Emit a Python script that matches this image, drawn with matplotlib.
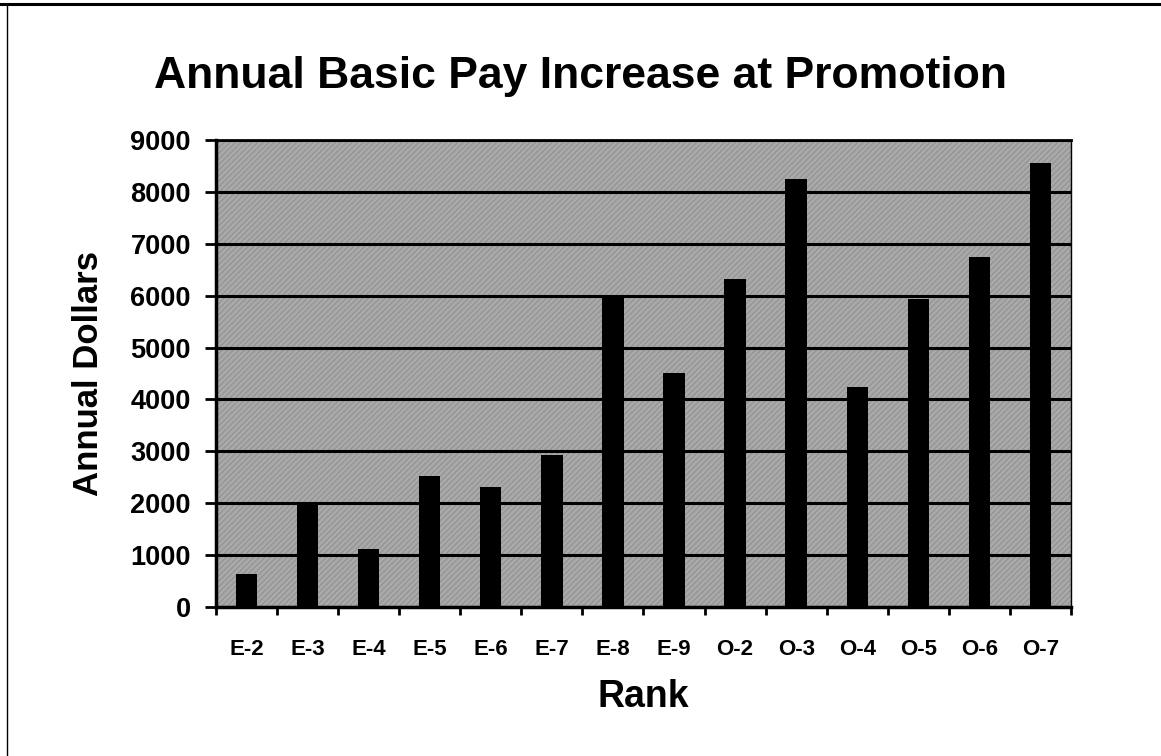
"""
Annual basic pay increase at promotion, by rank
"""
import matplotlib
matplotlib.use("Agg")
import matplotlib.pyplot as plt
from matplotlib.lines import Line2D
from matplotlib.patches import Rectangle
import numpy as np

# data
ranks = ["E-2", "E-3", "E-4", "E-5", "E-6", "E-7", "E-8", "E-9",
         "O-2", "O-3", "O-4", "O-5", "O-6", "O-7"]
pay_increase = [630, 2000, 1120, 2520, 2320, 2920, 6000, 4510,
                6320, 8240, 4240, 5930, 6740, 8560]
y_ticks = [0, 1000, 2000, 3000, 4000, 5000, 6000, 7000, 8000, 9000]

plt.rcParams['font.family'] = ['Liberation Sans', 'DejaVu Sans']
plt.rcParams['font.weight'] = 'bold'
plt.rcParams['hatch.linewidth'] = 0.7

fig = plt.figure(figsize=(11.61, 7.56), dpi=100)
ax = fig.add_axes([0.1860, 0.1971, 0.7365, 0.6177])

# gray textured plot area (the scan is a dithered gray)
ax.set_facecolor('#a9a9a9')
ax.add_patch(Rectangle((0, 0), 1, 1, transform=ax.transAxes,
                       facecolor='none', edgecolor='#8f8f8f', linewidth=0,
                       hatch='//////', zorder=0))

x = np.arange(len(ranks))
ax.bar(x, pay_increase, width=0.35, color='black', zorder=3)

ax.set_xlim(-0.5, len(ranks) - 0.5)
ax.set_ylim(0, 9000)
ax.set_yticks(y_ticks)
ax.set_yticklabels([str(v) for v in y_ticks], fontsize=19.5, fontweight='bold')

# labels centred on categories, ticks on the boundaries
ax.set_xticks(x)
ax.set_xticklabels(ranks, fontsize=16, fontweight='bold')
ax.set_xticks(np.arange(len(ranks) + 1) - 0.5, minor=True)
ax.tick_params(axis='x', which='major', length=0, pad=23)
ax.tick_params(axis='x', which='minor', length=6, width=2, direction='out')
ax.tick_params(axis='y', length=8, width=2, direction='out', pad=10)

ax.grid(axis='y', color='black', linewidth=2.2, zorder=1)
ax.set_axisbelow(True)

ax.spines['left'].set_linewidth(2.5)
ax.spines['bottom'].set_linewidth(2.5)
ax.spines['top'].set_linewidth(2.0)
ax.spines['right'].set_linewidth(1.0)

fig.text(0.5, 0.8836, "Annual Basic Pay Increase at Promotion",
         ha='center', va='baseline', fontsize=32, fontweight='bold')
fig.text(0.5545, 0.0648, "Rank", ha='center', va='baseline',
         fontsize=27, fontweight='bold')
fig.text(0.076, 0.506, "Annual Dollars", ha='center', va='center',
         rotation=90, fontsize=25, fontweight='bold')

# outer frame (top and left edges visible in the scan)
fig.add_artist(Line2D([0.0, 1.0], [0.9945, 0.9945], color='black',
                      linewidth=2.2, transform=fig.transFigure))
fig.add_artist(Line2D([0.0062, 0.0062], [0.0, 0.995], color='black',
                      linewidth=1.0, transform=fig.transFigure))

fig.savefig("out.png", dpi=100)
